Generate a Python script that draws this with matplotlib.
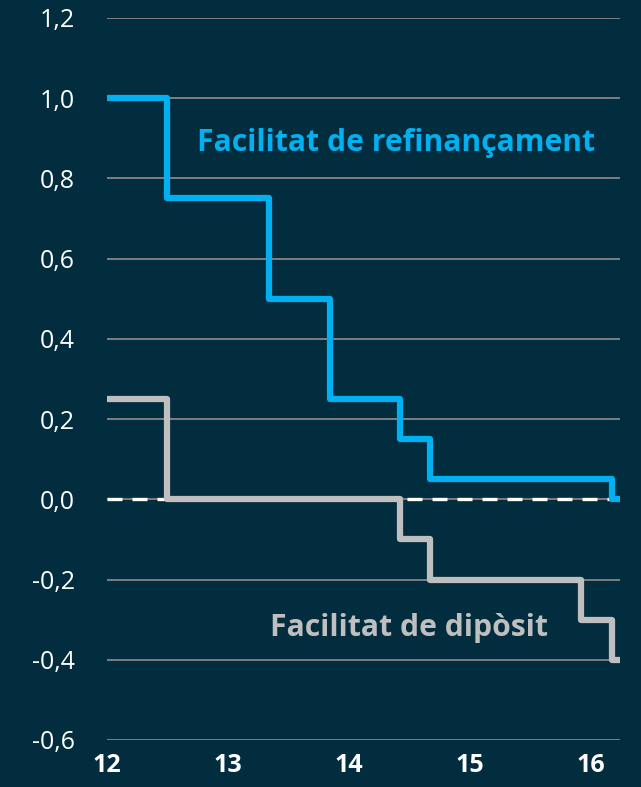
import numpy as np
import matplotlib.pyplot as plt

# --- dades: tipus oficials (%), eix x en anys (12 = 2012) ---
refi_x = [12.0, 12.5, 13.34, 13.84, 14.42, 14.67, 16.17, 16.24]
refi_y = [1.00, 0.75, 0.50, 0.25, 0.15, 0.05, 0.00, 0.00]

dip_x = [12.0, 12.5, 14.42, 14.67, 15.92, 16.17, 16.24]
dip_y = [0.25, 0.00, -0.10, -0.20, -0.30, -0.40, -0.40]

zero_x = [12.0, 16.17]
zero_y = [0.0, 0.0]

x_ticks = [12, 13, 14, 15, 16]
y_ticks = [-0.6, -0.4, -0.2, 0.0, 0.2, 0.4, 0.6, 0.8, 1.0, 1.2]
y_labels = ['-0,6', '-0,4', '-0,2', '0,0', '0,2', '0,4', '0,6', '0,8', '1,0', '1,2']

bg = '#022d3f'
blau = '#00b0f0'
gris = '#bfbfbf'

plt.rcParams['font.family'] = ['Open Sans', 'DejaVu Sans']

fig = plt.figure(figsize=(6.41, 7.87), dpi=100, facecolor=bg)
ax = fig.add_axes([107/641, 1 - 740/787, 513/641, 722/787], facecolor=bg)

# línies de la quadrícula
for yv in y_ticks:
    ax.axhline(yv, color='#7f7f7f', linewidth=1.4, zorder=1)

# línia discontínua a zero
ax.plot(zero_x, zero_y, color='white', linewidth=2.4, dashes=(4.5, 3), zorder=2)

# esglaons
ax.step(refi_x, refi_y, where='post', color=blau, linewidth=4.5,
        solid_joinstyle='round', solid_capstyle='butt', zorder=3, clip_on=False)
ax.step(dip_x, dip_y, where='post', color=gris, linewidth=4.5,
        solid_joinstyle='round', solid_capstyle='butt', zorder=3, clip_on=False)

ax.text(12.74, 0.868, 'Facilitat de refinançament', color=blau, fontsize=21.7,
        fontweight='bold', va='baseline', ha='left')
ax.text(13.35, -0.34, 'Facilitat de dipòsit', color=gris, fontsize=21.7,
        fontweight='bold', va='baseline', ha='left')

ax.set_xlim(12.0, 16.24)
ax.set_ylim(-0.6, 1.2)
ax.set_xticks(x_ticks)
ax.set_xticklabels([str(v) for v in x_ticks], fontweight='bold', fontsize=18)
ax.set_yticks(y_ticks)
ax.set_yticklabels(y_labels, fontsize=18)
ax.tick_params(axis='both', length=0, colors='white')
ax.tick_params(axis='x', pad=9)
ax.tick_params(axis='y', pad=23)
for s in ax.spines.values():
    s.set_visible(False)

plt.savefig('out.png', dpi=100, facecolor=bg)
